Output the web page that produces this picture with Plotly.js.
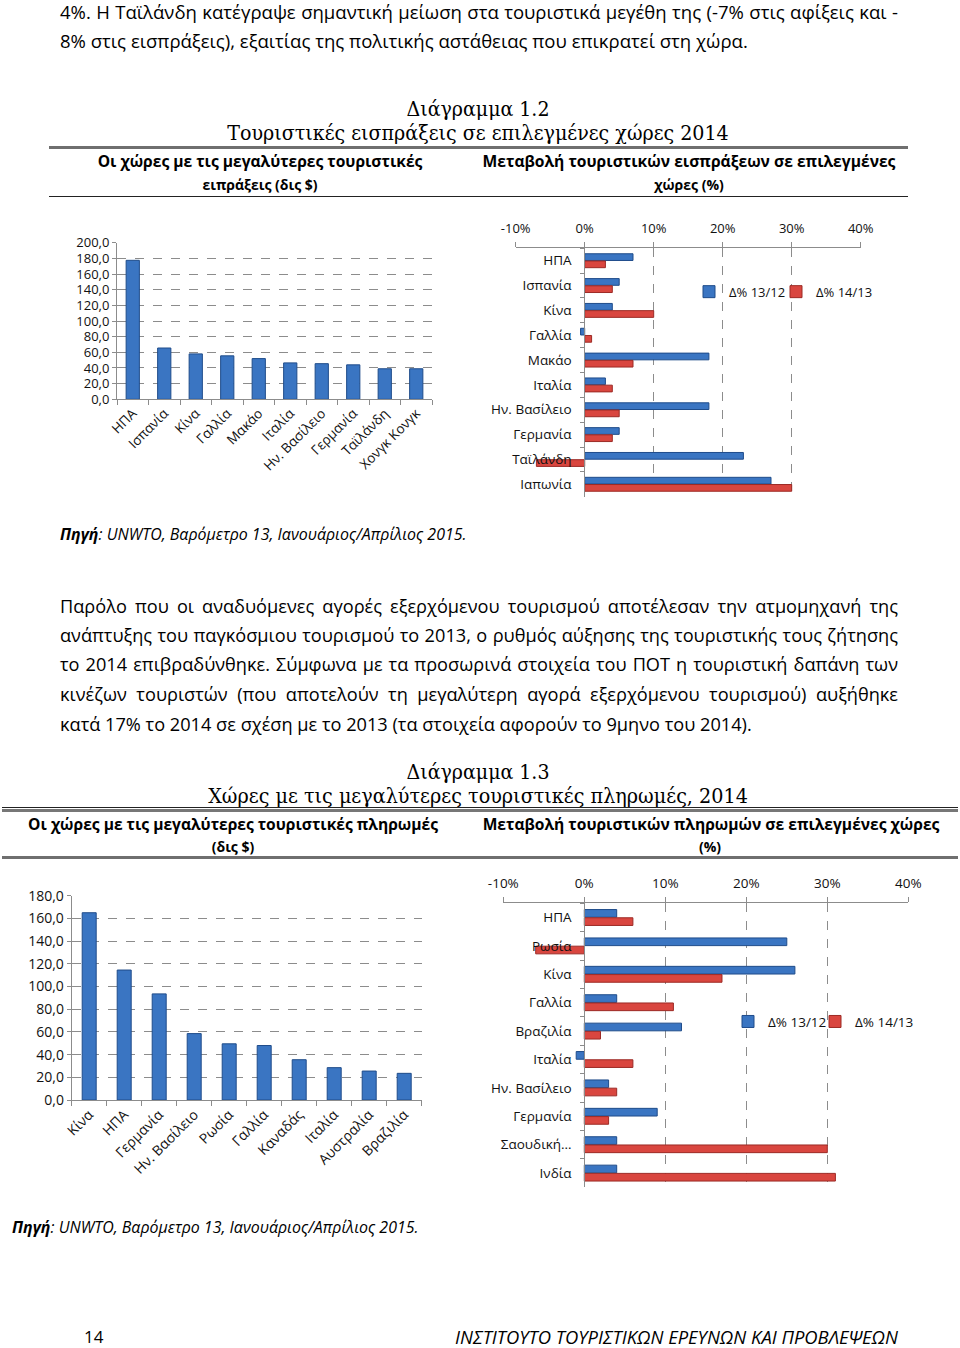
<!DOCTYPE html>
<html><head><meta charset="utf-8">
<script src="https://cdn.plot.ly/plotly-3.0.1.min.js"></script>
<style>
body{margin:0;background:#fff}
#page{position:relative;width:960px;height:1348px;overflow:hidden;background:#fff}
#plot{position:absolute;left:0;top:0;width:960px;height:1348px}
.t{position:absolute;white-space:nowrap;color:#000;font-family:'Open Sans',sans-serif}
.rule{position:absolute}
</style></head>
<body><div id="page"><div id="plot"></div></div>
<script>
// ---------- DATA ----------
const recCountries = ['ΗΠΑ','Ισπανία','Κίνα','Γαλλία','Μακάο','Ιταλία','Ην. Βασίλειο','Γερμανία','Ταϊλάνδη','Χονγκ Κονγκ'];
const recValues = [177.5, 65.5, 58, 55.5, 52, 46.5, 45.5, 44, 39, 39];

const recChgCountries = ['ΗΠΑ','Ισπανία','Κίνα','Γαλλία','Μακάο','Ιταλία','Ην. Βασίλειο','Γερμανία','Ταϊλάνδη','Ιαπωνία'];
const recChg1312 = [7, 5, 4, -0.6, 18, 3, 18, 5, 23, 27];
const recChg1413 = [3, 4, 10, 1, 7, 4, 5, 4, -7, 30];

const payCountries = ['Κίνα','ΗΠΑ','Γερμανία','Ην. Βασίλειο','Ρωσία','Γαλλία','Καναδάς','Ιταλία','Αυστραλία','Βραζιλία'];
const payValues = [165, 114.5, 93.5, 58.5, 49.5, 48, 35.5, 28.5, 25.5, 23.5];

const payChgCountries = ['ΗΠΑ','Ρωσία','Κίνα','Γαλλία','Βραζιλία','Ιταλία','Ην. Βασίλειο','Γερμανία','Σαουδική…','Ινδία'];
const payChg1312 = [4, 25, 26, 4, 12, -1, 3, 9, 4, 4];
const payChg1413 = [6, -6, 17, 11, 2, 6, 4, 3, 30, 31];

const seriesNames = ['Δ% 13/12', 'Δ% 14/13'];
const pctTickVals = [-10, 0, 10, 20, 30, 40];
const pctTickText = ['-10%', '0%', '10%', '20%', '30%', '40%'];

// ---------- TEXT ----------
const page = document.getElementById('page');
const W = 960, H = 1348;
function place(t){
  const d = document.createElement('div');
  d.className = 't';
  const lh = t.lh || Math.round(t.size*1.4);
  d.style.fontSize = t.size + 'px';
  d.style.lineHeight = lh + 'px';
  d.style.height = lh + 'px';
  d.style.top = (t.y - lh/2) + 'px';
  if (t.family) d.style.fontFamily = t.family;
  if (t.stretch) d.style.fontStretch = t.stretch;
  if (t.weight) d.style.fontWeight = t.weight;
  if (t.italic) d.style.fontStyle = 'italic';
  const s = document.createElement('span');
  if (t.html) s.innerHTML = t.html; else s.textContent = t.text;
  d.appendChild(s);
  if (t.align === 'center') {
    const hw = Math.min(t.x, W - t.x);
    d.style.left = (t.x - hw) + 'px'; d.style.width = (2*hw) + 'px'; d.style.textAlign = 'center';
  } else if (t.align === 'right') {
    d.style.left = (t.x - 560) + 'px'; d.style.width = '560px'; d.style.textAlign = 'right';
  } else {
    d.style.left = t.x + 'px';
  }
  page.appendChild(d);
  if (t.fit) {
    const w = s.getBoundingClientRect().width;
    let fs = t.size * t.fit / w;
    fs = Math.max(t.size*0.85, Math.min(t.size*1.15, fs));
    d.style.fontSize = fs + 'px';
  }
  return {d, s};
}
function rule(x, y, w, h, c){
  const d = document.createElement('div');
  d.className = 'rule';
  Object.assign(d.style, {left:x+'px', top:y+'px', width:w+'px', height:h+'px', background:c});
  page.appendChild(d);
}
const SERIF = "'DejaVu Serif Condensed', 'DejaVu Serif', serif";
const JW = 838;
const texts = [
  {text:'4%. Η Ταϊλάνδη κατέγραψε σημαντική μείωση στα τουριστικά μεγέθη της (-7% στις αφίξεις και -', x:60, y:12, justify:true, group:'top', size:16},
  {text:'8% στις εισπράξεις), εξαιτίας της πολιτικής αστάθειας που επικρατεί στη χώρα.', x:60, y:41, size:16, group:'top'},
  {text:'Διάγραμμα 1.2', x:478, y:109, align:'center', size:20, family:SERIF, stretch:'condensed', fit:143},
  {text:'Τουριστικές εισπράξεις σε επιλεγμένες χώρες 2014', x:478, y:133, align:'center', size:20, family:SERIF, stretch:'condensed', fit:502},
  {text:'Οι χώρες με τις μεγαλύτερες τουριστικές', x:260, y:161, align:'center', size:14, weight:700, fit:325},
  {text:'ειπράξεις (δις $)', x:260, y:185, align:'center', size:14, weight:700},
  {text:'Μεταβολή τουριστικών εισπράξεων σε επιλεγμένες', x:689, y:161, align:'center', size:14, weight:700, fit:413},
  {text:'χώρες (%)', x:689, y:185, align:'center', size:14, weight:700},
  {html:'<b>Πηγή</b>: UNWTO, Βαρόμετρο 13, Ιανουάριος/Απρίλιος 2015.', x:60, y:534, size:14, italic:true, fit:407},
  {text:'Παρόλο που οι αναδυόμενες αγορές εξερχόμενου τουρισμού αποτέλεσαν την ατμομηχανή της', x:60, y:606, justify:true, group:'p', size:16},
  {text:'ανάπτυξης του παγκόσμιου τουρισμού το 2013, ο ρυθμός αύξησης της τουριστικής τους ζήτησης', x:60, y:635, justify:true, group:'p', size:16},
  {text:'το 2014 επιβραδύνθηκε. Σύμφωνα με τα προσωρινά στοιχεία του ΠΟΤ η τουριστική δαπάνη των', x:60, y:664, justify:true, group:'p', size:16},
  {text:'κινέζων τουριστών (που αποτελούν τη μεγαλύτερη αγορά εξερχόμενου τουρισμού) αυξήθηκε', x:60, y:694, justify:true, group:'p', size:16},
  {text:'κατά 17% το 2014 σε σχέση με το 2013 (τα στοιχεία αφορούν το 9μηνο του 2014).', x:60, y:724, size:16, group:'p'},
  {text:'Διάγραμμα 1.3', x:478, y:772, align:'center', size:20, family:SERIF, stretch:'condensed', fit:143},
  {text:'Χώρες με τις μεγαλύτερες τουριστικές πληρωμές, 2014', x:478, y:796, align:'center', size:20, family:SERIF, stretch:'condensed', fit:540},
  {text:'Οι χώρες με τις μεγαλύτερες τουριστικές πληρωμές', x:233, y:824, align:'center', size:14, weight:700, fit:410},
  {text:'(δις $)', x:233, y:847, align:'center', size:14, weight:700},
  {text:'Μεταβολή τουριστικών πληρωμών σε επιλεγμένες χώρες', x:711, y:824, align:'center', size:14, weight:700, fit:457},
  {text:'(%)', x:710, y:847, align:'center', size:14, weight:700},
  {html:'<b>Πηγή</b>: UNWTO, Βαρόμετρο 13, Ιανουάριος/Απρίλιος 2015.', x:12, y:1227, size:14, italic:true, fit:407},
  {text:'14', x:84, y:1337, size:17, lh:18},
  {text:'ΙΝΣΤΙΤΟΥΤΟ ΤΟΥΡΙΣΤΙΚΩΝ ΕΡΕΥΝΩΝ ΚΑΙ ΠΡΟΒΛΕΨΕΩΝ', x:898, y:1337, align:'right', size:16, italic:true, fit:470, lh:18}
];

function layoutTexts(){
  const groups = {};
  texts.forEach(t => {
    const r = place(t);
    if (t.group) (groups[t.group] = groups[t.group] || []).push({t, d:r.d, s:r.s});
  });
  Object.values(groups).forEach(items => {
    let maxW = 0;
    items.forEach(it => { if (it.t.justify) maxW = Math.max(maxW, it.s.getBoundingClientRect().width); });
    const fs = items[0].t.size * (JW - 8) / maxW;
    items.forEach(it => {
      it.d.style.fontSize = fs + 'px';
      if (it.t.justify) {
        it.d.style.width = JW + 'px';
        it.d.style.whiteSpace = 'normal';
        it.d.style.textAlign = 'justify';
        it.d.style.textAlignLast = 'justify';
      }
    });
  });
}

// ---------- CHARTS ----------
const C_BLUE = '#3a75c2', C_BLUE_LINE = '#1f4c8a', C_RED = '#d9463f', C_RED_LINE = '#9c2a25';
const GRID = '#8c8c8c', AXIS = '#8c8c8c';
const FONT = "'Open Sans', sans-serif";
const fx = px => px / W;
const fy = py => 1 - py / H;

const traces = [
  {type:'bar', x:recCountries, y:recValues, xaxis:'x', yaxis:'y', width:0.42,
   marker:{color:C_BLUE, line:{color:C_BLUE_LINE, width:1}}, showlegend:false, hoverinfo:'skip'},
  {type:'bar', orientation:'h', y:recChgCountries, x:recChg1312, xaxis:'x2', yaxis:'y2', name:seriesNames[0],
   offset:-0.28, width:0.27, marker:{color:C_BLUE, line:{color:C_BLUE_LINE, width:1}}, legend:'legend', hoverinfo:'skip'},
  {type:'bar', orientation:'h', y:recChgCountries, x:recChg1413, xaxis:'x2', yaxis:'y2', name:seriesNames[1],
   offset:0.01, width:0.27, marker:{color:C_RED, line:{color:C_RED_LINE, width:1}}, legend:'legend3', hoverinfo:'skip'},
  {type:'bar', x:payCountries, y:payValues, xaxis:'x3', yaxis:'y3', width:0.4,
   marker:{color:C_BLUE, line:{color:C_BLUE_LINE, width:1}}, showlegend:false, hoverinfo:'skip'},
  {type:'bar', orientation:'h', y:payChgCountries, x:payChg1312, xaxis:'x4', yaxis:'y4', name:seriesNames[0],
   offset:-0.28, width:0.27, marker:{color:C_BLUE, line:{color:C_BLUE_LINE, width:1}}, legend:'legend2', hoverinfo:'skip'},
  {type:'bar', orientation:'h', y:payChgCountries, x:payChg1413, xaxis:'x4', yaxis:'y4', name:seriesNames[1],
   offset:0.01, width:0.27, marker:{color:C_RED, line:{color:C_RED_LINE, width:1}}, legend:'legend4', hoverinfo:'skip'}
];

function catX(domain, anchor, size){
  return {domain:domain, anchor:anchor, type:'category', tickangle:-45, tickfont:{size:size, color:'#111'},
    showline:true, linecolor:AXIS, linewidth:1, ticks:'outside', tickson:'boundaries', ticklen:5, tickcolor:AXIS,
    showgrid:false, zeroline:false, fixedrange:true};
}
function valY(domain, anchor, max, size){
  return {domain:domain, anchor:anchor, range:[0,max], dtick:20, tickformat:'.1f', tickfont:{size:size, color:'#111'},
    showline:true, linecolor:AXIS, linewidth:1, ticks:'outside', ticklen:4, tickcolor:AXIS,
    showgrid:true, gridcolor:GRID, griddash:'dash', gridwidth:1, zeroline:false, fixedrange:true};
}
function pctX(domain, anchor, size){
  return {domain:domain, anchor:anchor, side:'top', range:[-10,40], tickvals:pctTickVals, ticktext:pctTickText,
    tickfont:{size:size, color:'#111'}, showline:true, linecolor:AXIS, linewidth:1, ticks:'outside', ticklen:5, tickcolor:AXIS,
    ticklabelstandoff:4,
    showgrid:true, gridcolor:GRID, griddash:'dash', gridwidth:1, zeroline:false, fixedrange:true};
}
function catY(domain, pos, size){
  return {domain:domain, anchor:'free', position:pos, type:'category', autorange:'reversed',
    tickfont:{size:size, color:'#111'}, showline:true, linecolor:AXIS, linewidth:1, ticks:'outside', tickson:'boundaries',
    ticklen:4, tickcolor:AXIS, ticklabelstandoff:10, showgrid:false, zeroline:false, fixedrange:true};
}
function leg(textStartPx, yPx, size){
  return {orientation:'h', x:fx(textStartPx - 37), y:fy(yPx), xanchor:'left', yanchor:'middle',
    font:{size:size}, bgcolor:'rgba(0,0,0,0)', borderwidth:0};
}

const layout = {
  width:W, height:H, margin:{l:0, r:0, t:0, b:0}, paper_bgcolor:'rgba(0,0,0,0)', plot_bgcolor:'rgba(0,0,0,0)',
  font:{family:FONT, color:'#111'}, separators:',.', barmode:'overlay', hovermode:false,
  xaxis: catX([fx(117), fx(432)], 'y', 13.5),
  yaxis: valY([fy(399.3), fy(242.7)], 'x', 200, 13),
  xaxis2: pctX([fx(515.7), fx(860.7)], 'y2', 13),
  yaxis2: catY([fy(496.7), fy(248.3)], fx(584.3), 13.5),
  xaxis3: catX([fx(71.7), fx(421.7)], 'y3', 14),
  yaxis3: valY([fy(1100), fy(895.7)], 'x3', 180, 14),
  xaxis4: pctX([fx(503.3), fx(908.3)], 'y4', 13.5),
  yaxis4: catY([fy(1187.3), fy(903.3)], fx(584.3), 13.5),
  legend: leg(726, 291.7, 13),
  legend3: leg(813, 291.7, 13),
  legend2: leg(765, 1021.7, 13.5),
  legend4: leg(852, 1021.7, 13.5)
};

Plotly.newPlot('plot', traces, layout, {displayModeBar:false, staticPlot:true}).then(() => {
  const go = () => {
    layoutTexts();
    rule(49, 146, 859, 3, '#6f6f6f');
    rule(49, 195.5, 859, 1.5, '#222');
    rule(2, 806.5, 956, 1.5, '#222');
    rule(2, 809, 956, 2.5, '#777');
    rule(2, 856, 956, 2.5, '#6f6f6f');
  };
  if (document.fonts && document.fonts.ready) document.fonts.ready.then(go); else go();
});
</script>
</body></html>
